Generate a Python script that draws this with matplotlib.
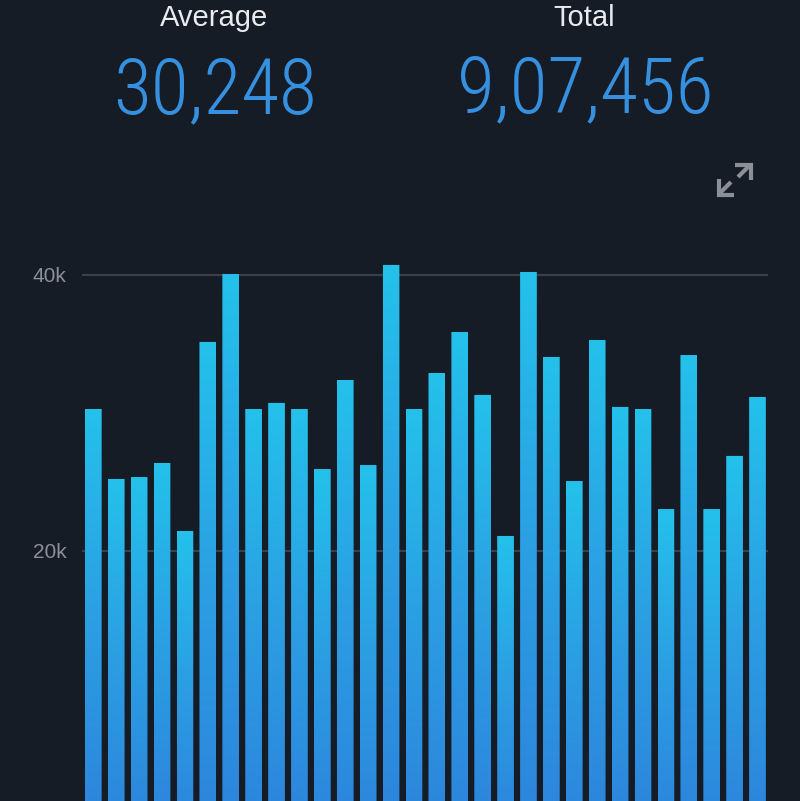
import matplotlib
matplotlib.use("Agg")
import matplotlib.pyplot as plt
import numpy as np
from matplotlib.patches import FancyBboxPatch
from matplotlib.colors import LinearSegmentedColormap
from matplotlib.lines import Line2D

# daily values (30 days)
values = [30290, 25220, 25360, 26380, 21450, 35150, 40070, 30290, 30730, 30290,
          25940, 32390, 26230, 40730, 30290, 32900, 35870, 31310, 21090, 40220,
          34060, 25070, 35290, 30440, 30290, 23040, 34200, 23040, 26890, 31160]
ytick_vals = [20000, 40000]
ytick_labels = ["20k", "40k"]
average_txt = "30,248"
total_txt = "9,07,456"

bg = "#161c26"
W, H = 800, 801
fig = plt.figure(figsize=(W / 100, H / 100), dpi=100, facecolor=bg)

narrow = ["Roboto Condensed", "Archivo Narrow", "Liberation Sans"]
plain = ["Liberation Sans", "DejaVu Sans"]

# header
fig.text(214 / W, 1 - 26 / H, "Average", ha="center", va="baseline",
         color="#e9ebee", fontsize=21, family=plain)
fig.text(584 / W, 1 - 26 / H, "Total", ha="center", va="baseline",
         color="#e9ebee", fontsize=21, family=plain)
fig.text(215 / W, 1 - 113 / H, average_txt, ha="center", va="baseline",
         color="#3690e0", fontsize=56, family=narrow, weight=300)
fig.text(585 / W, 1 - 113 / H, total_txt, ha="center", va="baseline",
         color="#3690e0", fontsize=56, family=narrow, weight=300)

# expand icon, drawn in pixel coords
def px_line(xs, ys):
    fig.add_artist(Line2D([x / W for x in xs], [1 - y / H for y in ys],
                          transform=fig.transFigure, color="#8b9098",
                          lw=3, solid_capstyle="butt", solid_joinstyle="miter"))

px_line([738, 749], [177, 166])
px_line([735, 750.5, 750.5], [164.5, 164.5, 180])
px_line([731, 720], [182, 193])
px_line([718.5, 718.5, 734], [179, 194.5, 194.5])

# chart
ax_left, ax_right, ax_top = 82, 768, 250
ax = fig.add_axes([ax_left / W, 0, (ax_right - ax_left) / W, 1 - ax_top / H])
ax.set_facecolor(bg)

px_per_unit_y = 276 / 20000
y_bottom = 40000 - (H - 275) / px_per_unit_y
y_top = 40000 + (275 - ax_top) / px_per_unit_y
spacing = 22.9
x0 = -(93.3 - ax_left) / spacing
x1 = 29 + (ax_right - 757.5) / spacing

for v in ytick_vals:
    ax.axhline(v, color="#3a3f48", lw=1.5, zorder=0)

ax.set_yticks(ytick_vals)
ax.set_yticklabels(ytick_labels)
ax.tick_params(axis="y", length=0, pad=11, labelsize=15, labelcolor="#8b9098")
ax.set_xticks([])
for s in ax.spines.values():
    s.set_visible(False)
for lbl in ax.get_yticklabels():
    lbl.set_family(plain)

cmap = LinearSegmentedColormap.from_list("bars", ["#2d84dc", "#2b9fe3", "#24c1eb"])
grad = np.linspace(0, 1, 256).reshape(-1, 1)
bw = 0.73
bars = ax.bar(range(len(values)), values, width=bw, color="none", lw=0)
for rect in bars:
    x, w, h = rect.get_x(), rect.get_width(), rect.get_height()
    box = FancyBboxPatch((x, 0), w, h, boxstyle="round,pad=0,rounding_size=%f" % (3.5 / spacing),
                         mutation_aspect=1 / px_per_unit_y / spacing,
                         facecolor="none", edgecolor="none", transform=ax.transData)
    ax.add_patch(box)
    im = ax.imshow(grad, extent=(x, x + w, 0, h), origin="lower", cmap=cmap,
                   aspect="auto", zorder=2, interpolation="bilinear")
    im.set_clip_path(box)

ax.set_xlim(x0, x1)
ax.set_ylim(y_bottom, y_top)

fig.savefig("out.png", dpi=100, facecolor=bg)
